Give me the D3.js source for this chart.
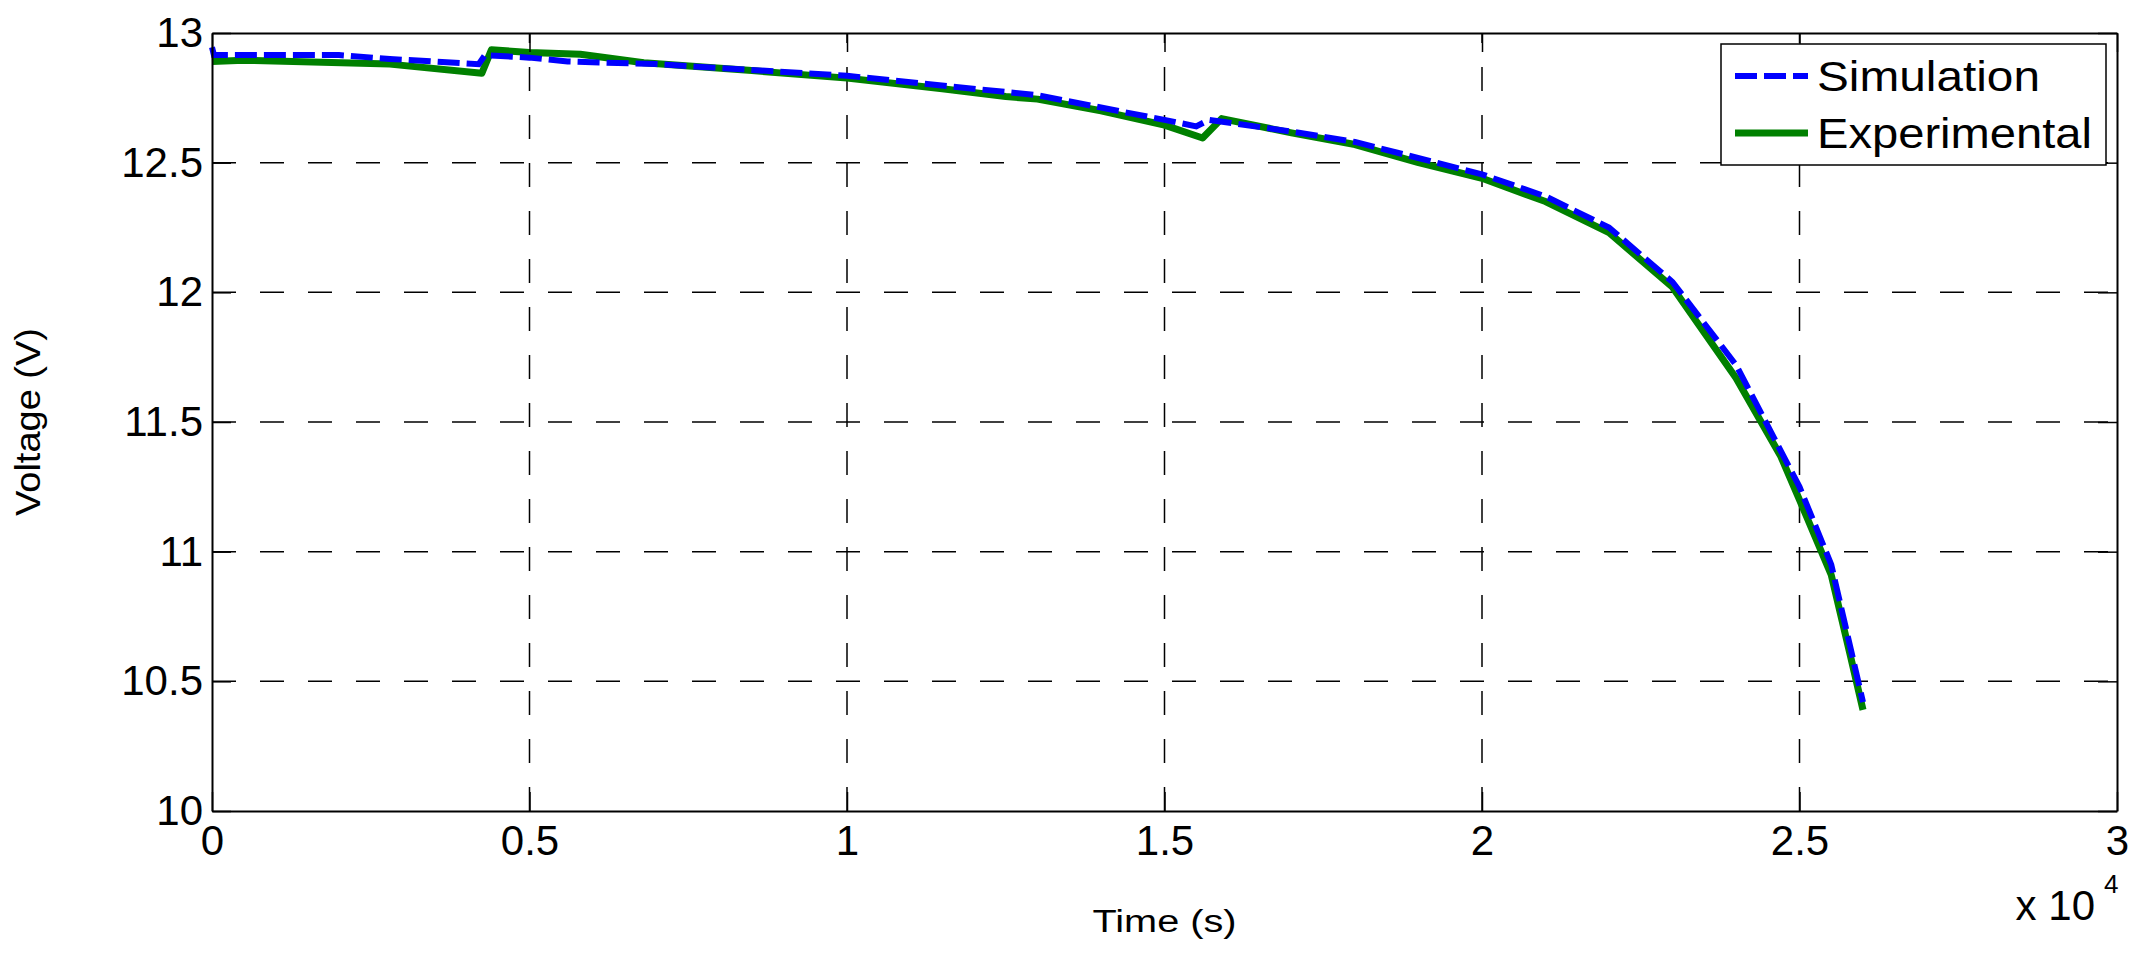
<!DOCTYPE html>
<html>
<head>
<meta charset="utf-8">
<script src="https://cdn.jsdelivr.net/npm/d3@7"></script>
<style>
  body { margin: 0; background: #fff; }
  svg text { font-family: "Liberation Sans", Arial, sans-serif; fill: #000; }
</style>
</head>
<body>
<div id="vis"></div>
<script>
// data (time in seconds, voltage in V)
const simTime = [0, 30, 2000, 2800, 4200, 4300, 5000, 5600, 7000, 10000, 13000, 15000, 15500, 15700, 17000, 18000, 20000, 21000, 22000, 23000, 24000, 25000, 25500, 26000];
const simVolt = [12.945, 12.915, 12.915, 12.9, 12.88, 12.915, 12.905, 12.89, 12.88, 12.835, 12.76, 12.665, 12.64, 12.665, 12.62, 12.58, 12.455, 12.37, 12.25, 12.04, 11.72, 11.25, 10.95, 10.42];

const expTime = [0, 500, 2800, 4250, 4400, 5000, 5800, 6800, 8500, 10000, 11500, 12500, 13000, 14000, 15000, 15600, 15900, 17000, 18000, 19000, 20000, 21000, 22000, 23000, 24000, 24700, 25000, 25500, 25800, 26000];
const expVolt = [12.89, 12.895, 12.88, 12.845, 12.935, 12.925, 12.918, 12.885, 12.855, 12.826, 12.785, 12.755, 12.745, 12.70, 12.645, 12.595, 12.67, 12.615, 12.57, 12.50, 12.44, 12.35, 12.23, 12.02, 11.67, 11.37, 11.2, 10.91, 10.6, 10.39];

const xTicks = [0, 5000, 10000, 15000, 20000, 25000, 30000];
const xTickLabels = ["0", "0.5", "1", "1.5", "2", "2.5", "3"];
const yTicks = [10, 10.5, 11, 11.5, 12, 12.5, 13];
const yTickLabels = ["10", "10.5", "11", "11.5", "12", "12.5", "13"];

const seriesNames = ["Simulation", "Experimental"];

const WIDTH = 2148;
const HEIGHT = 964;
const MARG = {left: 212, right: 31, top: 33, bottom: 153};
const VIS_WIDTH = WIDTH - MARG.left - MARG.right;
const VIS_HEIGHT = HEIGHT - MARG.top - MARG.bottom;
const TICK = 19;

const svg = d3.select("#vis")
  .append("svg")
    .attr("width", WIDTH)
    .attr("height", HEIGHT);

svg.append("rect").attr("width", WIDTH).attr("height", HEIGHT).attr("fill", "#fff");

const X_SCALE = d3.scaleLinear().domain([0, 30000]).range([0, VIS_WIDTH]);
const Y_SCALE = d3.scaleLinear().domain([10, 13]).range([VIS_HEIGHT, 0]);

const g = svg.append("g")
  .attr("transform", "translate(" + MARG.left + "," + MARG.top + ")");

// dashed grid
g.append("g").selectAll("line")
  .data(xTicks.slice(1, -1))
  .enter().append("line")
    .attr("x1", d => X_SCALE(d)).attr("x2", d => X_SCALE(d))
    .attr("y1", VIS_HEIGHT).attr("y2", 0)
    .attr("stroke", "#000").attr("stroke-width", 1.5)
    .attr("stroke-dasharray", "24,24");
g.append("g").selectAll("line")
  .data(yTicks.slice(1, -1))
  .enter().append("line")
    .attr("x1", 0).attr("x2", VIS_WIDTH)
    .attr("y1", d => Y_SCALE(d)).attr("y2", d => Y_SCALE(d))
    .attr("stroke", "#000").attr("stroke-width", 1.5)
    .attr("stroke-dasharray", "24,24");

// curves
const line = d3.line()
  .x(d => X_SCALE(d[0]))
  .y(d => Y_SCALE(d[1]));

const expData = expTime.map((t, i) => [t, expVolt[i]]);
const simData = simTime.map((t, i) => [t, simVolt[i]]);

g.append("path")
  .datum(expData)
  .attr("d", line)
  .attr("fill", "none")
  .attr("stroke", "#008000")
  .attr("stroke-width", 7)
  .attr("stroke-linejoin", "round");

g.append("path")
  .datum(simData)
  .attr("d", line)
  .attr("fill", "none")
  .attr("stroke", "#0000ff")
  .attr("stroke-width", 6)
  .attr("stroke-dasharray", "22,7");

// axes, ticks pointing inwards like matlab
g.append("g")
  .attr("transform", "translate(0," + VIS_HEIGHT + ")")
  .call(d3.axisBottom(X_SCALE).tickValues(xTicks)
    .tickFormat((d, i) => xTickLabels[i])
    .tickSizeInner(-TICK).tickSizeOuter(0).tickPadding(14));
g.append("g")
  .call(d3.axisLeft(Y_SCALE).tickValues(yTicks)
    .tickFormat((d, i) => yTickLabels[i])
    .tickSizeInner(-TICK).tickSizeOuter(0).tickPadding(9));
g.append("g")
  .call(d3.axisTop(X_SCALE).tickValues(xTicks).tickFormat("")
    .tickSizeInner(-TICK).tickSizeOuter(0));
g.append("g")
  .attr("transform", "translate(" + VIS_WIDTH + ",0)")
  .call(d3.axisRight(Y_SCALE).tickValues(yTicks).tickFormat("")
    .tickSizeInner(-TICK).tickSizeOuter(0));

g.selectAll(".domain").attr("stroke", "#000").attr("stroke-width", 2);
g.selectAll(".tick line").attr("stroke", "#000").attr("stroke-width", 1.5);
g.selectAll(".tick text").attr("font-size", "42px").attr("font-family", "Liberation Sans, Arial, sans-serif");

// axis labels
svg.append("text")
  .attr("x", MARG.left + VIS_WIDTH / 2)
  .attr("y", 932)
  .attr("text-anchor", "middle")
  .attr("font-size", "31px")
  .attr("textLength", 144)
  .attr("lengthAdjust", "spacingAndGlyphs")
  .text("Time (s)");

svg.append("text")
  .attr("transform", "translate(40," + (MARG.top + VIS_HEIGHT / 2) + ") rotate(-90)")
  .attr("text-anchor", "middle")
  .attr("font-size", "35px")
  .attr("textLength", 188)
  .attr("lengthAdjust", "spacingAndGlyphs")
  .text("Voltage (V)");

// x 10^4 multiplier
svg.append("text")
  .attr("x", 2095).attr("y", 920)
  .attr("text-anchor", "end")
  .attr("font-size", "42px")
  .text("x 10");
svg.append("text")
  .attr("x", 2104).attr("y", 893)
  .attr("font-size", "26px")
  .text("4");

// legend
const legend = svg.append("g").attr("transform", "translate(1721,44)");
legend.append("rect")
  .attr("width", 385).attr("height", 121)
  .attr("fill", "#fff").attr("stroke", "#000").attr("stroke-width", 1.5);
const legStyles = [
  {color: "#0000ff", width: 6, dash: "22,7"},
  {color: "#008000", width: 7, dash: null}
];
const legLen = [223, 275];
seriesNames.forEach((name, i) => {
  const yy = 32 + i * 57;
  legend.append("line")
    .attr("x1", 14).attr("x2", 87)
    .attr("y1", yy).attr("y2", yy)
    .attr("stroke", legStyles[i].color)
    .attr("stroke-width", legStyles[i].width)
    .attr("stroke-dasharray", legStyles[i].dash);
  legend.append("text")
    .attr("x", 96).attr("y", yy + 15)
    .attr("font-size", "42px")
    .attr("textLength", legLen[i])
    .attr("lengthAdjust", "spacingAndGlyphs")
    .text(name);
});
</script>
</body>
</html>
